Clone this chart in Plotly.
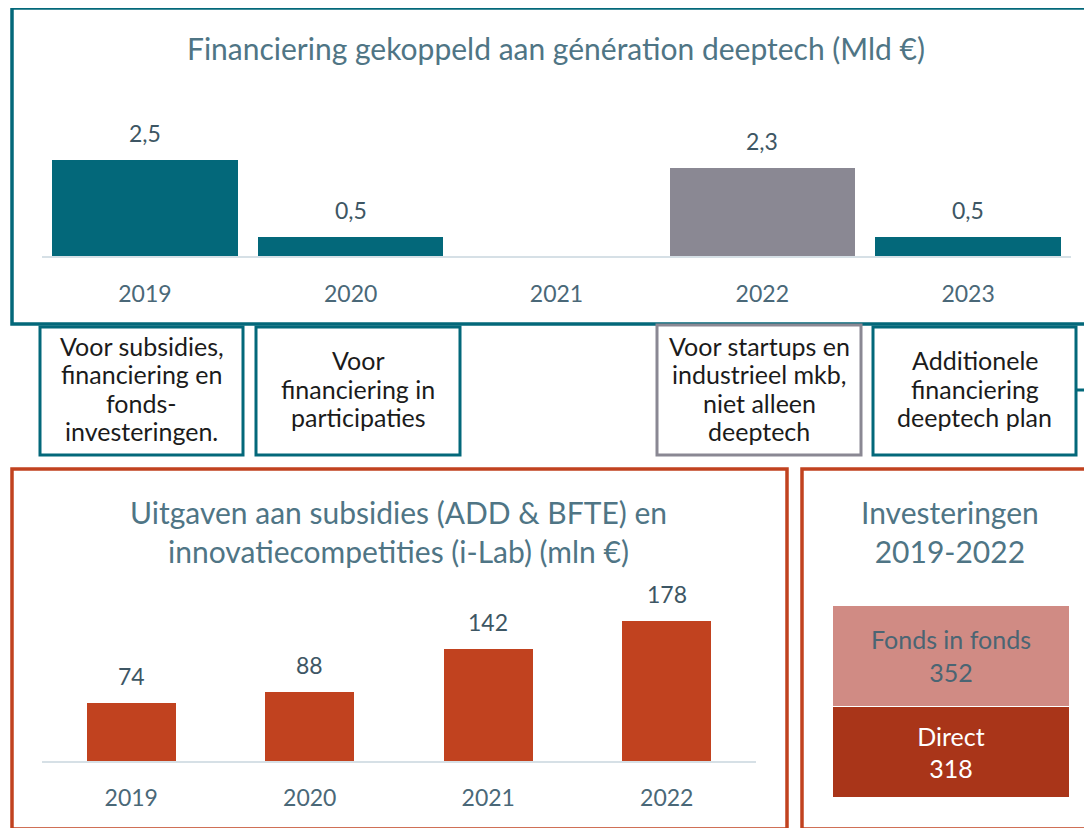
import plotly.graph_objects as go

# ---------------- data ----------------
top_years = ["2019", "2020", "2021", "2022", "2023"]
top_values = [2.5, 0.5, None, 2.3, 0.5]
top_kind = ["deeptech", "deeptech", "deeptech", "breed", "deeptech"]
top_notes = [
    ["Voor subsidies,", "financiering en", "fonds-", "investeringen."],
    ["Voor", "financiering in", "participaties"],
    None,
    ["Voor startups en", "industrieel mkb,", "niet alleen", "deeptech"],
    ["Additionele", "financiering", "deeptech plan"],
]

sub_years = ["2019", "2020", "2021", "2022"]
sub_values = [74, 88, 142, 178]

inv_labels = ["Direct", "Fonds in fonds"]
inv_values = [318, 352]

title_top = "Financiering gekoppeld aan génération deeptech (Mld €)"
title_sub = "Uitgaven aan subsidies (ADD & BFTE) en<br>innovatiecompetities (i-Lab) (mln €)"
title_inv = "Investeringen<br>2019-2022"

# ---------------- style ----------------
OX, OY = 8, 8            # page body margin
FW, FH = 1084, 820       # figure size so that it fits the window
FONT = "Lato"
TEAL = "#03687a"
GREY = "#8a8893"
RED = "#c1421f"
RED_DARK = "#a93519"
PINK = "#d08b84"
TITLE_C = "#4f7585"
TICK_C = "#4a6878"
LABEL_C = "#3d5664"
BASE_C = "#d6e0e6"


def X(px):
    return (px - OX) / FW


def Y(py):
    return 1 - (py - OY) / FH


def note_ann(xc, yc, text, size, color):
    return dict(x=X(xc), y=Y(yc), xref="paper", yref="paper", showarrow=False,
                xanchor="center", yanchor="middle", align="center", text=text,
                font=dict(family=FONT, size=size, color=color))


kind_color = {"deeptech": TEAL, "breed": GREY}

fig = go.Figure()

# top chart
fig.add_trace(go.Bar(
    x=top_years, y=top_values, width=0.9,
    marker=dict(color=[kind_color[k] for k in top_kind], line=dict(width=0)),
    xaxis="x", yaxis="y", showlegend=False, hoverinfo="skip",
))

# bottom-left chart
fig.add_trace(go.Bar(
    x=sub_years, y=sub_values, width=0.5,
    marker=dict(color=RED, line=dict(width=0)),
    xaxis="x2", yaxis="y2", showlegend=False, hoverinfo="skip",
))

# bottom-right stacked
inv_colors = [RED_DARK, PINK]
inv_text_colors = ["white", "#4a6573"]
for lab, val, col, tcol in zip(inv_labels, inv_values, inv_colors, inv_text_colors):
    fig.add_trace(go.Bar(
        x=["inv"], y=[val], width=1,
        marker=dict(color=col, line=dict(color="white", width=1.5)),
        text=[f"{lab}<br>{val}"], textposition="inside", insidetextanchor="middle",
        textfont=dict(family=FONT, size=25, color=tcol),
        xaxis="x3", yaxis="y3", showlegend=False, hoverinfo="skip",
    ))

annotations = []
# data labels
for i, v in enumerate(top_values):
    if v is None:
        continue
    annotations.append(dict(
        x=i, y=v, xref="x", yref="y", yshift=27, showarrow=False,
        text=f"{v:.1f}".replace(".", ","), xanchor="center", yanchor="middle",
        font=dict(family=FONT, size=23, color=LABEL_C)))
for i, v in enumerate(sub_values):
    annotations.append(dict(
        x=i, y=v, xref="x2", yref="y2", yshift=27, showarrow=False,
        text=str(v), xanchor="center", yanchor="middle",
        font=dict(family=FONT, size=23, color=LABEL_C)))

# titles
annotations += [
    note_ann(556, 48, title_top, 30, TITLE_C),
    note_ann(398, 531, title_sub, 30, TITLE_C),
    note_ann(950, 531, title_inv, 30, TITLE_C),
]

shapes = [
    # panel borders
    dict(type="rect", xref="paper", yref="paper", x0=X(12), x1=X(1110), y0=Y(8), y1=Y(324),
         line=dict(color=TEAL, width=3.5), layer="above"),
    dict(type="rect", xref="paper", yref="paper", x0=X(12), x1=X(787), y0=Y(469), y1=Y(829),
         line=dict(color=RED, width=3.5), layer="above"),
    dict(type="rect", xref="paper", yref="paper", x0=X(802), x1=X(1110), y0=Y(469), y1=Y(829),
         line=dict(color=RED, width=3.5), layer="above"),
    dict(type="line", xref="paper", yref="paper", x0=X(1076), x1=X(1100), y0=Y(390), y1=Y(390),
         line=dict(color=TEAL, width=3)),
]

# note boxes under the top chart
box_px = {0: (40, 243), 1: (256, 460), 3: (657, 861), 4: (873, 1076)}
LINE_H = 28.5
for i, note in enumerate(top_notes):
    if note is None:
        continue
    x0, x1 = box_px[i]
    col = kind_color[top_kind[i]]
    y0 = 325 if top_kind[i] == "breed" else 327
    shapes.append(dict(type="rect", xref="paper", yref="paper", x0=X(x0), x1=X(x1),
                       y0=Y(y0), y1=Y(455), line=dict(color=col, width=3)))
    n = len(note)
    for j, line in enumerate(note):
        yc = 388.5 + (j - (n - 1) / 2) * LINE_H
        annotations.append(note_ann((x0 + x1) / 2, yc, line, 25, "#1b1b1b"))

fig.update_layout(
    width=FW, height=FH,
    margin=dict(l=0, r=0, t=0, b=0, autoexpand=False),
    paper_bgcolor="white", plot_bgcolor="white",
    barmode="stack",
    font=dict(family=FONT),
    xaxis=dict(domain=[X(42), X(1071)], anchor="y", type="category", range=[-0.5, 4.5],
               showline=True, linecolor=BASE_C, linewidth=2,
               showgrid=False, zeroline=False, ticks="", ticklabelstandoff=16,
               tickfont=dict(family=FONT, size=23, color=TICK_C)),
    yaxis=dict(domain=[Y(256), Y(102.4)], range=[0, 4], visible=False),
    xaxis2=dict(domain=[X(42), X(756)], anchor="y2", type="category", range=[-0.5, 3.5],
                showline=True, linecolor=BASE_C, linewidth=2,
                showgrid=False, zeroline=False, ticks="", ticklabelstandoff=15,
                tickfont=dict(family=FONT, size=23, color=TICK_C)),
    yaxis2=dict(domain=[Y(761), Y(603.6)], range=[0, 200], visible=False),
    xaxis3=dict(domain=[X(832), X(1070)], anchor="y3", range=[-0.5, 0.5], visible=False),
    yaxis3=dict(domain=[Y(798), Y(596.4)], range=[0, 700], visible=False),
    annotations=annotations,
    shapes=shapes,
)

fig.write_html("out.html")
